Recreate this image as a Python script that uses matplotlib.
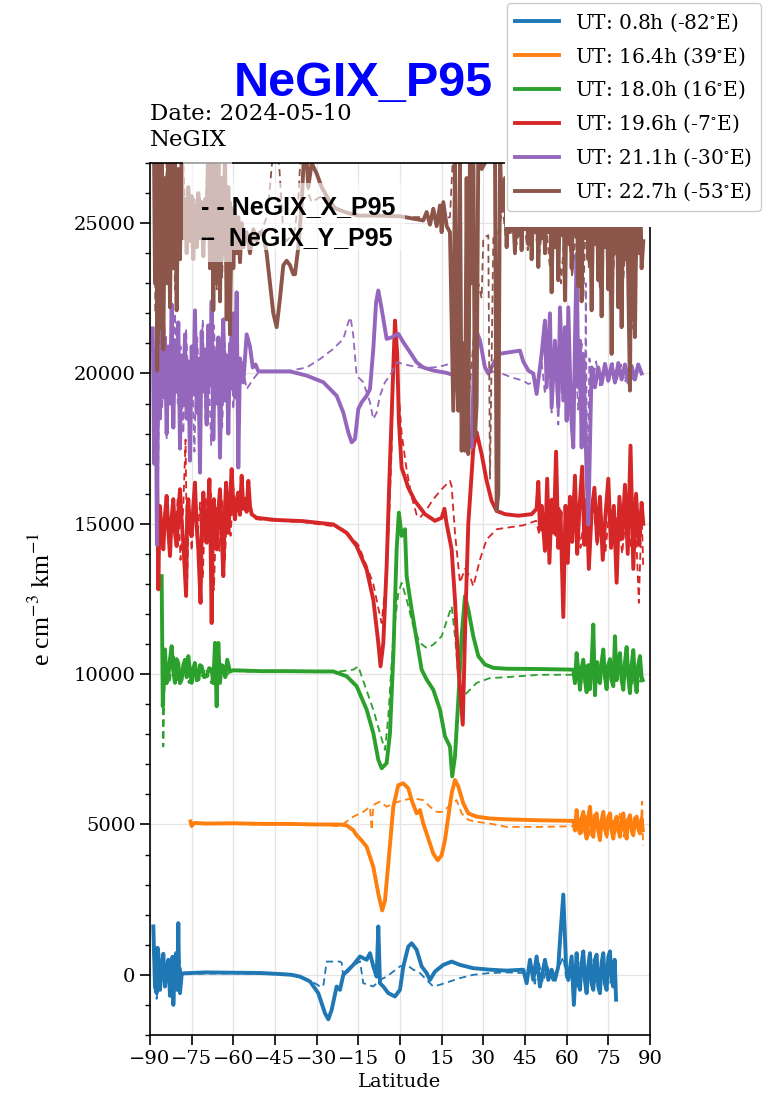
import numpy as np
import matplotlib.pyplot as plt
from matplotlib.ticker import MultipleLocator
from matplotlib.patches import Rectangle

plt.rcParams['font.family'] = 'DejaVu Serif'
plt.rcParams['mathtext.fontset'] = 'stix'

# legend labels and vertical offsets of the stacked curves
ut_labels = ['UT: 0.8h (-82$^{\\circ}$E)', 'UT: 16.4h (39$^{\\circ}$E)', 'UT: 18.0h (16$^{\\circ}$E)',
             'UT: 19.6h (-7$^{\\circ}$E)', 'UT: 21.1h (-30$^{\\circ}$E)', 'UT: 22.7h (-53$^{\\circ}$E)']
offsets = [0, 5000, 10000, 15000, 20000, 25000]
colors = ['C0', 'C1', 'C2', 'C3', 'C4', 'C5']

# (latitude, value relative to offset)
# _y = NeGIX_Y_P95 (solid), _x = NeGIX_X_P95 (dashed)
blue_y = [(-88.8,1610),(-88.2,-400),(-87.6,-610),(-87.3,900),(-87.0,720),(-86.4,-500),(-85.8,280),(-85.2,700),(-84.6,-390),
          (-84.0,200),(-83.4,500),(-82.8,-700),(-82.2,-280),(-81.9,600),(-81.6,-1000),(-81.1,300),(-80.6,720),(-80.2,-500),
          (-79.8,1720),(-79.5,-300),(-79.2,-610),(-78.6,0),(-78.0,50),(-70,80),(-60,70),(-50,60),(-42,20),(-39,0),
          (-36.0,-60),(-32.4,-220),(-29.4,-610),(-27.0,-1280),(-25.8,-1480),(-24.6,-1170),(-22.8,-390),(-21.6,-500),
          (-20.4,0),(-16.8,330),(-14.4,610),(-12.0,500),(-10.8,720),(-9.6,280),(-8.4,-60),(-7.8,1610),(-7.2,-280),
          (-6.0,-390),(-4.2,-610),(-1.8,-720),(0.0,-500),(1.2,280),(3.0,940),(4.2,1050),(6.0,830),(7.8,280),(9.6,60),
          (10.8,-170),(12.6,110),(15.6,330),(18.6,440),(21.6,330),(26.4,220),(32.4,170),(38.4,140),(44.4,170),
          (45.6,-280),(46.8,500),(48.0,-170),(49.2,610),(50.4,-390),(52.2,500),(53.4,-170),(54.6,170),(55.8,-170),
          (57.0,280),(57.8,1390),(58.8,2670),(59.8,280),(60.6,-170),(61.8,610),(62.6,-1000),(63.6,720),(64.2,-300),
          (64.8,-500),(65.4,400),(66.0,780),(66.6,-200),(67.2,-610),(67.8,300),(68.4,720),(69.0,-300),(69.6,-500),
          (70.2,500),(70.8,670),(71.4,-400),(72.0,-610),(72.6,400),(73.2,720),(73.8,-300),(74.4,-500),(75.0,600),
          (75.6,780),(76.2,-200),(76.8,-390),(77.3,500),(77.8,-830)]
blue_x = [(-88.8,800),(-88.2,-300),(-87.6,-800),(-86.4,300),(-85.0,-200),(-84.0,400),(-82.5,-500),(-81.0,300),
          (-79.5,600),(-78.6,0),(-78.0,30),(-60,50),(-45,20),(-40,0),(-35,-100),(-32,-200),(-28.8,-390),(-27.6,-380),
          (-26.4,440),(-21.6,440),(-21.0,400),(-20.4,-60),(-19.2,50),(-16.8,300),(-14.4,450),(-13.2,-280),(-9.6,-390),
          (-7.2,-170),(-4.8,-60),(-2.4,110),(0.0,280),(2.4,330),(4.8,170),(7.2,60),(9.6,-170),(12.0,-390),(14.4,-330),
          (18.0,-220),(21.6,-110),(26.4,0),(32.4,60),(38.4,80),(44.4,60),(46,-200),(47,300),(48.5,-300),(50,400),
          (51.5,-250),(53,300),(55,-200),(57,200),(58.8,600),(60,-200),(62,300),(63,-600),(65,400),(67,-400),(69,500),
          (71,-400),(73,500),(75,-300),(77,400),(77.8,-700)]

orange_y = [(-75.4,100),(-75.0,-50),(-74.0,50),(-70,30),(-60,40),(-50,20),(-40,20),(-30,0),(-21.6,0),(-19.2,-30),
            (-16.8,-190),(-15.6,-360),(-14.4,-470),(-12.0,-740),(-9.6,-1410),(-7.8,-2300),(-6.4,-2860),(-5.4,-2530),
            (-4.2,-1300),(-2.4,590),(-0.6,1310),(1.2,1370),(3.0,1200),(4.2,810),(6.0,370),(7.2,480),(8.4,30),
            (10.2,-470),(12.0,-970),(13.6,-1190),(15.0,-1020),(16.2,-520),(17.4,260),(18.6,1030),(19.8,1480),
            (21.0,1260),(22.8,700),(24.6,370),(27.6,260),(32.4,200),(38.4,170),(50.4,140),(62.4,120),(63.0,-200),
            (63.6,480),(64.2,-100),(64.8,-300),(65.4,200),(66.0,420),(66.6,-150),(67.2,-470),(67.8,250),(68.4,590),
            (69.0,-100),(69.6,-410),(70.2,200),(70.8,370),(71.4,-200),(72.0,-520),(72.6,150),(73.2,420),(73.8,-150),
            (74.4,-360),(75.0,250),(75.6,370),(76.2,-200),(76.8,-470),(77.4,100),(78.0,260),(78.6,-150),(79.2,-410),
            (79.8,200),(80.4,370),(81.0,-200),(81.6,-470),(82.2,150),(82.8,310),(83.4,-150),(84.0,-360),(84.6,200),
            (85.2,260),(85.8,-150),(86.4,-300),(87.0,200),(87.4,-190)]
orange_x = [(-75.4,50),(-70,30),(-50,0),(-30,0),(-21.6,-60),(-16.8,260),(-13.2,420),(-10.8,590),(-10.2,-190),
            (-9.6,650),(-7.2,760),(-4.8,590),(-2.4,700),(1.2,810),(4.8,870),(8.4,810),(10.8,590),(13.2,420),(15.6,420),
            (18.0,650),(20.4,810),(22.2,370),(24.6,150),(27.6,90),(32.4,30),(38.4,-80),(50.4,-80),(62.4,-60),(64,300),
            (65.5,-350),(67,350),(68.5,-400),(70,400),(71.5,-350),(73,300),(74.5,-450),(76,350),(77.5,-300),(79,400),
            (80.5,-400),(82,300),(83.5,-350),(85,250),(86.5,-300),(87.2,760),(87.5,-690)]

green_y = [(-85.8,3260),(-85.4,-1070),(-84.6,820),(-84.0,-300),(-83.4,-70),(-82.8,500),(-82.2,930),(-81.6,100),
           (-81.0,-290),(-80.4,500),(-79.8,370),(-79.2,-300),(-78.6,-180),(-78.0,300),(-77.4,480),(-76.8,-100),
           (-76.2,600),(-75.6,100),(-75.0,-290),(-74.4,200),(-73.8,370),(-73.2,-200),(-72.6,-180),(-72.0,300),
           (-71.4,260),(-70.5,-100),(-69.6,-70),(-68.7,200),(-67.8,150),(-67.2,-300),(-66.6,1040),(-66.0,-1070),
           (-65.4,1040),(-64.8,-290),(-64.2,300),(-63.6,260),(-62.9,-100),(-62.2,480),(-61.2,90),(-60.0,130),
           (-50,100),(-40,100),(-30,90),(-24.0,90),(-19.2,-70),(-15.6,-400),(-12.0,-1180),(-9.6,-1960),(-7.8,-2850),
           (-6.6,-3130),(-4.8,-2960),(-3.6,-1960),(-2.4,600),(-1.2,4150),(-0.4,5370),(0.6,4600),(1.8,4820),(2.4,3260),
           (4.2,2150),(6.0,1150),(7.8,150),(9.6,-180),(12.0,-520),(14.4,-1180),(16.2,-2070),(18.0,-2410),(18.8,-3400),
           (19.8,-2750),(21.0,-850),(22.2,1260),(23.4,2600),(24.6,2150),(26.4,1260),(28.2,600),(30.6,320),(33.6,210),
           (38.4,180),(50.4,170),(62.4,150),(63.0,-300),(63.6,700),(64.2,100),(64.8,-520),(65.4,200),(66.0,480),
           (66.6,-200),(67.2,-600),(67.9,300),(68.4,-500),(69.0,400),(69.6,1650),(70.2,-700),(70.6,200),(71.0,400),
           (71.5,-200),(72.0,-300),(72.6,400),(73.2,820),(73.8,-100),(74.4,-500),(75.0,300),(75.6,500),(76.2,-200),
           (76.8,-400),(77.4,1260),(78.0,-200),(78.6,300),(79.2,700),(79.8,-200),(80.4,-520),(81.0,400),(81.6,900),
           (82.2,-100),(82.8,-630),(83.4,300),(84.0,800),(84.6,-200),(85.2,-600),(85.8,300),(86.4,600),(87.0,-100),
           (87.4,-200)]
green_x = [(-85.8,2000),(-85.2,-2410),(-84.6,500),(-83,-300),(-81.5,600),(-80,-200),(-78,300),(-76,-300),(-74,400),
           (-72,-200),(-70,200),(-68,-300),(-66.6,600),(-66,-600),(-65,300),(-63,-100),(-61,100),(-50,80),(-40,80),
           (-30,80),(-21.6,90),(-16.8,150),(-15.0,260),(-13.8,-70),(-9.6,-1180),(-7.2,-1960),(-5.4,-2520),
           (-4.2,-1410),(-2.4,1260),(-0.6,2700),(0.6,3040),(2.4,2480),(4.8,1590),(7.2,1040),(9.6,870),(12.0,980),
           (15.0,1260),(17.4,1930),(18.6,2260),(19.8,1260),(21.0,-70),(22.8,-740),(25.2,-520),(27.6,-290),(32.4,-130),
           (38.4,-100),(50.4,-20),(62.4,-20),(64,400),(65.5,-300),(67,300),(68.5,-400),(70,350),(71.5,-300),(73,500),
           (74.5,-350),(76,400),(77.5,-300),(79,350),(80.5,-400),(82,300),(83.5,-350),(85,300),(86.5,-250),(87.4,0)]

red_y = [(-87.6,2600),(-87.3,500),(-87.0,-2180),(-86.7,-300),(-86.4,590),(-85.8,-400),(-85.2,-850),(-84.6,300),
         (-84.0,930),(-83.4,-200),(-82.8,-1070),(-82.2,200),(-81.6,820),(-81.0,-300),(-80.4,-740),(-79.8,400),
         (-79.2,1150),(-78.6,100),(-78.0,-630),(-77.0,-2400),(-76.6,300),(-76.2,820),(-75.6,-200),(-75.0,-410),
         (-74.4,600),(-73.8,1370),(-73.2,-100),(-72.6,-850),(-71.8,-2630),(-71.3,200),(-70.8,1040),(-70.2,-200),
         (-69.6,-630),(-69.1,500),(-68.6,1480),(-68.2,-500),(-67.8,-3300),(-67.4,-200),(-67.0,820),(-66.5,-300),
         (-66.0,-850),(-65.4,400),(-64.8,1150),(-64.2,-300),(-63.6,-1740),(-63.1,300),(-62.6,1370),(-62.2,500),
         (-61.8,-300),(-61.2,700),(-60.6,1820),(-60.0,600),(-59.4,150),(-58.8,800),(-58.2,1040),(-57.6,300),
         (-57.0,1600),(-56.4,500),(-55.8,820),(-55.2,400),(-54.6,1430),(-54.0,600),(-53.4,320),(-51.6,200),
         (-45,130),(-35,90),(-24.0,-20),(-19.2,-300),(-15.6,-740),(-12.0,-1520),(-9.6,-2520),
         (-7.8,-3960),(-7.0,-4740),(-6.0,-3960),(-4.8,-1410),(-3.8,1500),(-1.8,6760),(-1.0,5650),(-0.4,3430),
         (0.6,1870),(3.0,1200),(5.4,760),(9.0,320),(12.6,100),(15.0,200),(16.0,500),(16.8,0),(18.6,-850),
         (19.8,-2520),(21.0,-4740),(22.6,-6680),(23.6,-3000),(24.6,0),(26.4,2500),(27.6,3040),(29.4,2320),
         (31.2,1430),(33.0,760),(34.8,430),(37.8,320),(42.6,270),(47.4,320),(49.2,500),(49.8,1400),(50.4,-200),
         (51.0,600),(52.2,-900),(53.0,1500),(53.8,-1300),(54.6,800),(55.4,-300),(56.2,2400),(57.0,-800),(57.8,400),
         (58.8,-3100),(59.6,600),(60.4,-1300),(61.2,900),(62.0,-600),(63.0,1600),(63.8,-1000),(64.6,500),(65.6,1900),
         (66.4,-700),(67.2,800),(68.0,-1500),(69.0,400),(70.0,1200),(71.0,-600),(72.0,900),(73.0,-1200),(74.0,300),
         (75.0,1500),(76.0,-800),(77.0,600),(78.0,-1960),(79.0,900),(80.0,-500),(81.0,1300),(82.0,-1000),
         (83.0,2600),(84.0,-1500),(85.0,1000),(86.0,-700),(87.0,700),(87.6,0)]
red_x = [(-87.6,1500),(-87.0,-1500),(-86.0,400),(-85.0,-600),(-84.0,500),(-83.0,-900),(-82.0,600),(-81.0,-500),
         (-80.0,900),(-79.0,-1200),(-78.0,600),(-77.2,2800),(-76.6,-1800),(-76.0,500),(-75.0,-900),(-74.0,1100),
         (-73.0,-600),(-72.0,700),(-71.0,-1800),(-70.0,900),(-69.0,-500),(-68.0,1000),(-67.0,-2200),(-66.0,600),
         (-65.0,-900),(-64.0,800),(-63.0,-1200),(-62.0,1000),(-61.0,-400),(-60.0,1200),(-59.0,300),(-58.0,800),
         (-57.0,1300),(-56.0,500),(-55.0,1000),(-53.4,250),(-51.6,150),(-45,100),(-35,60),(-24.0,-80),(-20.0,-200),
         (-15.0,-700),(-12.0,-1400),(-9.6,-2000),(-7.8,-2800),(-6.6,-3300),(-5.4,-2200),(-4.2,-500),(-3.0,2500),
         (-2.4,5500),(-1.5,6300),(-0.6,4500),(0.6,3000),(2.4,1800),(4.2,900),(6.0,300),(7.2,200),(9.6,480),
         (12.0,820),(15.0,1150),(18.0,1430),(18.6,1250),(19.8,-300),(21.6,-1960),(23.4,-1500),(25.2,-1740),
         (26.4,-2080),(28.8,-1190),(31.2,-520),(34.8,-180),(38.4,-130),(44.4,-50),(49.0,100),(50.0,-300),(51.5,400),
         (53.0,-600),(54.5,500),(56.0,-400),(57.5,600),(59.0,-1200),(60.5,300),(62.0,-500),(63.5,700),(65.0,-800),
         (66.5,400),(68.0,-400),(69.5,800),(71.0,-700),(72.5,300),(74.0,-900),(75.5,600),(77.0,-500),(78.5,400),
         (80.0,-1000),(81.5,500),(83.0,-800),(84.5,900),(86.0,-2630),(87.0,400),(87.6,-1500)]

purple_y = [(-89.0,1500),(-88.5,-3000),(-88.0,800),(-87.5,-5700),(-87.0,1200),(-86.4,-1500),(-85.8,2000),(-85.2,-800),
            (-84.6,1200),(-84.0,-2000),(-83.4,900),(-82.8,-1000),(-82.2,2300),(-81.6,-1800),(-81.0,1100),(-80.4,-600),
            (-79.8,1700),(-79.2,-2500),(-78.6,600),(-78.0,-900),(-77.4,1300),(-76.8,-1500),(-76.2,400),(-75.6,-2900),
            (-75.0,900),(-74.4,-700),(-73.8,2100),(-73.2,-1300),(-72.6,500),(-72.0,-3300),(-71.4,1400),(-70.8,-600),
            (-70.2,800),(-69.6,-1700),(-69.0,1600),(-68.4,-400),(-67.8,2400),(-67.2,-2200),(-66.6,700),(-66.0,-1000),
            (-65.4,1200),(-64.8,-2800),(-64.2,400),(-63.6,1800),(-63.0,-900),(-62.4,600),(-61.8,-2000),(-61.2,1000),
            (-60.6,-500),(-60.0,2000),(-59.4,-800),(-58.8,2700),(-58.2,-3130),(-57.6,500),(-56.4,-300),(-55.2,1300),
            (-54.0,900),(-53.0,200),(-52.0,300),(-51.0,70),(-45,70),(-39.6,70),(-33.6,-70),(-27.6,-290),(-22.8,-740),
            (-20.4,-1300),(-18.6,-1960),(-17.4,-2290),(-16.2,-2180),(-15.0,-1180),(-13.8,-960),(-12.0,-740),
            (-10.8,-520),(-9.6,820),(-8.6,2370),(-7.8,2760),(-6.6,2150),(-4.8,1150),(-3.0,1200),(-0.6,1320),(1.2,1040),
            (3.6,710),(6.0,370),(8.4,200),(12.0,100),(16.8,20),(19.8,-70),(21.0,-240),(22.8,-1130),(24.6,-2350),
            (25.8,-2450),(27.0,1540),(28.8,1100),(30.6,200),(31.8,0),(33.6,320),(35.4,650),(39.0,700),(43.2,760),
            (44.4,400),(46.2,100),(48.0,0),(49.2,-680),(51.0,650),(52.2,1760),(52.8,-460),(54.0,2000),(54.6,-1130),
            (55.8,1090),(57.0,-1130),(57.6,2200),(58.8,-900),(59.4,1540),(60.0,-1570),(60.6,2200),(61.6,-1350),
            (62.4,-2460),(63.0,1090),(63.6,3980),(64.2,-460),(64.8,1090),(65.4,-2460),(66.0,650),(67.2,-3350),
            (67.8,-5020),(69.0,200),(70.2,-460),(71.4,200),(72.6,-350),(73.8,320),(75.0,-240),(76.2,300),(77.4,-300),
            (78.6,350),(79.8,-200),(81.0,300),(82.2,-300),(83.4,250),(84.6,-200),(85.8,300),(87.0,0)]
purple_x = [(-89.0,800),(-88.4,-2500),(-87.8,1500),(-87.2,-4500),(-86.6,600),(-85.6,-1200),(-84.8,1600),(-84.0,-2200),
            (-83.0,800),(-82.0,-1600),(-81.0,2000),(-80.0,-1000),(-79.0,900),(-78.0,-2000),(-77.0,1500),(-76.0,-800),
            (-75.0,600),(-74.0,-2600),(-73.0,1200),(-72.0,-1000),(-71.0,1800),(-70.0,-1500),(-69.0,700),(-68.0,-2400),
            (-67.0,1600),(-66.0,-500),(-65.0,900),(-64.0,-1800),(-63.0,1000),(-62.0,-700),(-61.0,1400),(-60.0,-1200),
            (-59.0,900),(-58.0,-600),(-57.0,400),(-55.2,-520),(-52.8,-180),(-50.4,90),(-39.6,90),(-33.6,200),
            (-28.8,480),(-24.0,820),(-20.4,1150),(-18.6,1700),(-17.8,1870),(-16.8,1260),(-15.6,-70),(-14.4,-180),
            (-13.2,-290),(-10.8,-960),(-9.6,-1520),(-8.4,-1300),(-7.2,-740),(-5.4,-290),(-3.6,-70),(-1.2,370),
            (1.2,320),(3.6,260),(7.2,200),(12.0,200),(15.6,260),(19.8,370),(21.0,200),(27.0,420),(29.4,370),(31.8,100),
            (36.6,0),(40.2,-130),(44.4,-240),(46.2,-350),(49.8,-240),(51.0,400),(52.2,-700),(53.4,900),(54.6,-1300),
            (55.8,600),(57.0,-1700),(58.2,1200),(59.4,-900),(60.6,1400),(61.8,-2000),(63.0,700),(64.2,-1200),
            (65.4,1000),(66.6,-2500),(66.9,3000),(67.4,-4500),(68.2,500),(69.4,-300),(70.6,400),(72.0,-400),(73.5,300),
            (75.0,-300),(76.5,350),(78.0,-250),(79.5,300),(81.0,-300),(82.5,250),(84.0,-300),(85.5,300),(87.0,0)]

brown_y = [(-88.6,3000),(-88.2,-2000),(-87.8,2500),(-87.4,-4900),(-87.0,2800),(-86.4,-3500),(-85.8,2500),(-85.2,-4200),
           (-84.6,1500),(-84.0,-2000),(-83.4,3000),(-82.8,-2800),(-82.2,2000),(-81.6,-1500),(-81.0,2500),(-80.4,-2900),
           (-79.8,1800),(-79.2,-1200),(-78.6,2500),(-78.0,-500),(-77.4,800),(-76.8,-1000),(-76.2,1200),(-75.6,-600),
           (-75.0,900),(-74.4,-1200),(-73.8,600),(-73.2,-800),(-72.6,1000),(-72.0,-500),(-71.4,700),(-70.8,-1100),
           (-70.2,800),(-69.6,-400),(-69.0,3000),(-68.4,-1500),(-67.8,3000),(-67.2,-2900),(-66.6,2500),(-66.0,-2000),
           (-65.4,3000),(-64.8,-2600),(-64.2,1500),(-63.6,-1000),(-63.0,2500),(-62.4,-3200),(-61.8,1200),(-61.2,-3700),
           (-60.6,500),(-60.0,-1500),(-59.4,300),(-58.8,-1000),(-58.2,200),(-57.6,-1300),(-57.0,0),(-56.4,-800),
           (-55.2,-300),(-54.0,-1000),(-52.8,-200),(-51.6,-600),(-50.4,-300),(-49.2,-400),(-48.0,-1000),(-46.8,-2000),
           (-45.6,-3000),(-44.4,-3460),(-43.2,-2500),(-42.0,-1400),(-40.8,-1250),(-39.6,-1400),(-38.4,-1700),
           (-37.8,-1700),(-36.6,-800),(-35.4,650),(-34.2,3000),(-33.0,1200),(-31.8,2000),(-30.0,1650),(-28.2,1200),
           (-25.8,800),(-23.4,500),(-19.2,350),(-15.0,250),(-7.2,250),(0.0,230),(4.8,150),(8.4,90),(9.6,370),
           (10.8,-50),(12.0,480),(13.2,-100),(14.4,590),(15.0,-300),(15.6,700),(16.8,-100),(18.0,-300),(19.2,-6240),
           (19.8,2500),(20.4,-5000),(21.0,-6240),(21.6,2000),(22.2,-7570),(22.8,-4000),(23.4,-7570),(24.0,1500),
           (24.6,-7680),(25.2,2500),(25.8,-2000),(26.4,3000),(27.0,-7130),(27.6,-6000),(28.2,2500),(29.4,1800),
           (30.6,2000),(31.8,2500),(33.0,3000),(34.2,2500),(34.8,-9570),(35.4,-9000),(36.0,2500),(36.6,400),
           (37.8,1500),(38.4,-800),(39.0,1000),(39.6,-300),(40.2,1500),(41.4,-1000),(42.0,800),(42.6,-400),(43.2,1200),
           (43.8,-900),(44.4,1500),(45.0,-200),(45.6,1000),(46.2,-700),(46.8,1500),(47.4,-1200),(48.0,800),(48.6,-300),
           (49.2,1500),(49.8,-1460),(50.4,1000),(51.0,-500),(51.6,1500),(52.2,-1000),(52.8,800),(53.4,-300),
           (54.0,1200),(54.6,-2300),(55.2,1000),(55.8,-800),(56.4,1500),(57.0,-1900),(57.6,1000),(58.2,-400),
           (58.8,1500),(59.4,-2570),(60.0,1000),(60.6,-700),(61.2,1500),(61.8,-1500),(62.4,1000),(63.0,-400),
           (63.6,1500),(64.2,-2100),(64.8,800),(65.4,-2600),(66.0,1500),(66.6,-500),(67.2,1000),(67.8,-1200),
           (68.4,1500),(69.0,-2900),(69.6,1000),(70.2,-700),(70.8,1500),(71.4,-1900),(72.0,1000),(72.6,-3100),
           (73.2,1500),(73.8,-800),(74.4,1000),(75.0,-2200),(75.6,1500),(76.2,-4350),(76.8,1000),(77.4,-1000),
           (78.0,1500),(78.6,-2800),(79.2,1000),(79.8,-3460),(80.4,1500),(81.0,-1200),(81.6,1000),(82.2,-2000),
           (82.8,-5570),(83.4,1500),(84.0,-1500),(84.6,-3790),(85.2,1000),(85.8,-1000),(86.4,1500),(87.0,-1500),
           (87.6,-600)]
brown_x = [(-88.6,2000),(-88.0,-3000),(-87.4,1500),(-86.8,-4000),(-86.0,2500),(-85.0,-2500),(-84.0,2000),(-83.0,-1800),
           (-82.0,2500),(-81.0,-2200),(-80.0,1500),(-79.0,-1000),(-78.0,2000),(-77.0,-600),(-76.0,1000),(-75.0,-800),
           (-74.0,800),(-73.0,-600),(-72.0,900),(-71.0,-900),(-70.0,600),(-69.0,2500),(-68.0,-1200),(-67.0,2500),
           (-66.0,-2200),(-65.0,2000),(-64.0,-1800),(-63.0,1500),(-62.0,-2500),(-61.0,800),(-60.0,-800),(-58.0,-400),
           (-56.0,-600),(-54.0,-500),(-52.0,-400),(-50.0,-300),(-48.0,200),(-46.8,1200),(-45.6,2500),(-44.4,3200),
           (-43.2,1500),(-42.0,-300),(-40.8,-600),(-39.0,-400),(-37.8,-200),(-36.6,800),(-35.4,3000),(-34.2,2800),
           (-33.0,1000),(-31.8,700),(-28.2,900),(-24.0,500),(-18.0,300),(-10.0,250),(0.0,200),(10.0,200),(15.0,150),
           (18.0,200),(19.2,2500),(20.4,-2000),(21.6,-5000),(22.8,-7000),(24.6,-6000),(26.4,-4000),(28.2,-2000),
           (29.4,-2500),(30.0,-500),(31.8,-400),(32.4,-8500),(33.6,-500),(35.4,-300),(37.0,500),(38.0,-400),
           (40.0,600),(42.0,-700),(44.0,500),(46.0,-900),(48.0,400),(50.0,-1200),(52.0,600),(54.0,-1500),(56.0,500),
           (58.0,-2000),(60.0,700),(62.0,-1800),(64.0,400),(66.0,-2500),(67.0,500),(68.0,-1500),(70.0,300),
           (72.0,-2200),(74.0,600),(76.0,-3000),(78.0,400),(80.0,-2500),(82.0,500),(84.0,-3500),(86.0,400),
           (87.6,-1000)]

solid = [blue_y, orange_y, green_y, red_y, purple_y, brown_y]
dashed = [blue_x, orange_x, green_x, red_x, purple_x, brown_x]

fig = plt.figure(figsize=(7.68, 11.03), dpi=100)
ax = fig.add_axes([0.1953, 0.0617, 0.651, 0.7905])

for i in range(6):
    dx = np.array(dashed[i])
    sy = np.array(solid[i])
    ax.plot(dx[:, 0], dx[:, 1] + offsets[i], '--', color=colors[i], lw=1.3, dashes=(4, 2.5))
    ax.plot(sy[:, 0], sy[:, 1] + offsets[i], '-', color=colors[i], lw=2.8, label=ut_labels[i])

ax.set_xlim(-90, 90)
ax.set_ylim(-2000, 27000)
ax.set_xticks(np.arange(-90, 91, 15))
ax.set_yticks(np.arange(0, 25001, 5000))
ax.yaxis.set_minor_locator(MultipleLocator(1000))
ax.tick_params(which='major', labelsize=14, length=7, width=1.2)
ax.tick_params(which='minor', length=3.6, width=1.0)
for sp in ax.spines.values():
    sp.set_linewidth(1.2)
ax.grid(True, color='#e4e4e4', lw=0.9)
ax.set_axisbelow(True)

ax.set_xlabel('Latitude', fontsize=14)
ax.set_ylabel(r'e cm$^{-3}$ km$^{-1}$', fontsize=18.5, family='Liberation Serif')
ax.yaxis.set_label_coords(-0.19, 0.5)
ax.set_title('Date: 2024-05-10\nNeGIX', loc='left', fontsize=16.5, linespacing=1.25, pad=12)

# white / translucent patches pasted over the plot in the original figure
fig.patches.append(Rectangle((0.6576, 0.7942), 0.19, 0.0626, transform=fig.transFigure,
                             facecolor='white', edgecolor='none', zorder=1))
fig.patches.append(Rectangle((0.2383, 0.7625), 0.0638, 0.0925, transform=fig.transFigure,
                             facecolor='white', edgecolor='none', alpha=0.6, zorder=1))
fig.patches.append(Rectangle((0.3021, 0.7733), 0.2253, 0.0608, transform=fig.transFigure,
                             facecolor='white', edgecolor='none', alpha=0.6, zorder=1))

leg = fig.legend(loc='upper right', bbox_to_anchor=(0.993, 0.999), fontsize=14.5, framealpha=1,
                 edgecolor='#cccccc', fancybox=True, labelspacing=0.57, handlelength=2.2,
                 borderaxespad=0.1)

fig.text(0.262, 0.8126, '- - NeGIX_X_P95', fontsize=18, fontweight='bold', family='Liberation Sans',
         va='center', ha='left')
fig.text(0.262, 0.7840, '\u2013  NeGIX_Y_P95', fontsize=18, fontweight='bold', family='Liberation Sans',
         va='center', ha='left')
fig.text(0.4727, 0.9240, 'NeGIX_P95', fontsize=35, fontweight='bold', color='#0000ff',
         family='Liberation Sans', ha='center', va='center')

fig.savefig('out.png', dpi=100)
